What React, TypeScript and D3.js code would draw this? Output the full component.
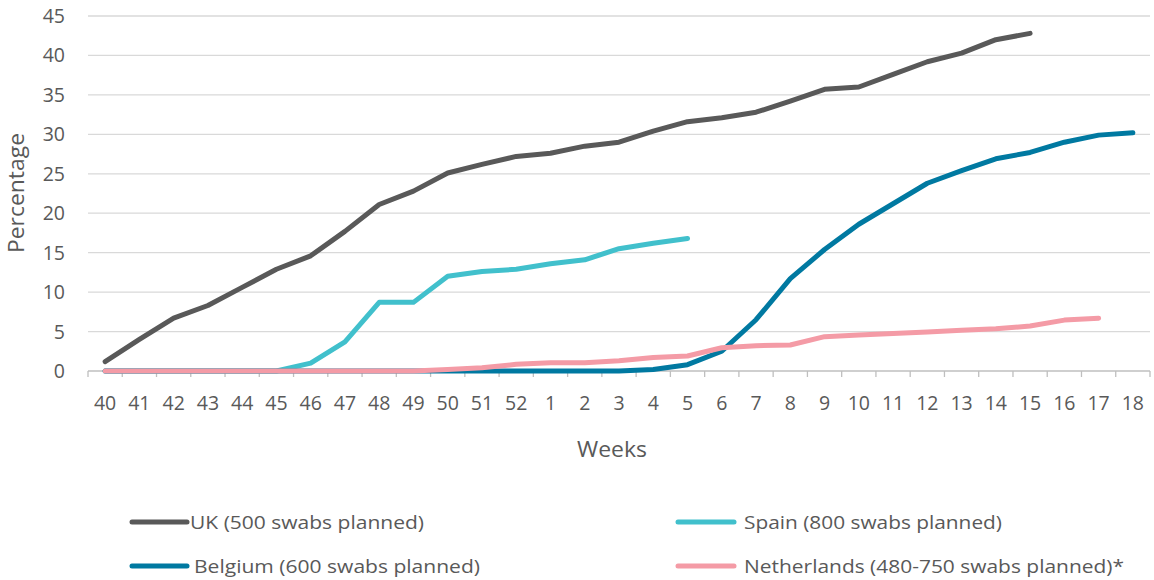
import React from "react";
import * as d3 from "d3";

const weeks: string[] = ["40","41","42","43","44","45","46","47","48","49","50","51","52","1","2","3","4","5","6","7","8","9","10","11","12","13","14","15","16","17","18"];
const yTicks: number[] = [0, 5, 10, 15, 20, 25, 30, 35, 40, 45];

const ukValues: number[] = [1.2, 4.0, 6.7, 8.3, 10.6, 12.9, 14.6, 17.7, 21.1, 22.8, 25.1, 26.2, 27.2, 27.6, 28.5, 29.0, 30.4, 31.6, 32.1, 32.8, 34.2, 35.7, 36.0, 37.6, 39.2, 40.3, 42.0, 42.8];
const spainValues: number[] = [0, 0, 0, 0, 0, 0, 1.0, 3.7, 8.7, 8.7, 12.0, 12.6, 12.9, 13.6, 14.1, 15.5, 16.2, 16.8];
const belgiumValues: number[] = [0, 0, 0, 0, 0, 0, 0, 0, 0, 0, 0, 0, 0, 0, 0, 0, 0.2, 0.8, 2.5, 6.5, 11.7, 15.4, 18.6, 21.2, 23.8, 25.4, 26.9, 27.7, 29.0, 29.9, 30.2];
const netherlandsValues: number[] = [0, 0, 0, 0, 0, 0, 0, 0, 0, 0, 0.2, 0.4, 0.85, 1.05, 1.05, 1.3, 1.7, 1.9, 2.95, 3.2, 3.3, 4.35, 4.55, 4.75, 4.95, 5.15, 5.35, 5.7, 6.45, 6.7];

const seriesNames: string[] = ["UK (500 swabs planned)", "Spain (800 swabs planned)", "Belgium (600 swabs planned)", "Netherlands (480-750 swabs planned)*"];
const seriesColors: string[] = ["#595959", "#41C0CC", "#0079A1", "#F49BA6"];

const FONT = "'Open Sans', 'DejaVu Sans', sans-serif";
const TEXT = "#595959";

export default function App() {
  const W = 1154, H = 580;
  const x = d3.scaleBand<string>().domain(weeks).range([88, 1150]).padding(0);
  const y = d3.scaleLinear().domain([0, 45]).range([371, 16]);
  const cx = (i: number) => (x(weeks[i]) as number) + x.bandwidth() / 2;
  const line = d3.line<number>().x((_, i) => cx(i)).y((v) => y(v));

  const series = [ukValues, spainValues, belgiumValues, netherlandsValues];
  const legendPos = [
    { sx: 132, ex: 187, tx: 190, y: 522, w: 234 },
    { sx: 678, ex: 734, tx: 744, y: 522, w: 258 },
    { sx: 132, ex: 187, tx: 194, y: 566, w: 286 },
    { sx: 678, ex: 734, tx: 744, y: 566, w: 380 },
  ];
  const boundaries = weeks.map((w) => x(w) as number).concat([1150]);

  return (
    <svg width={W} height={H} style={{ position: "absolute", left: 0, top: 0, background: "#fff" }} fontFamily={FONT}>
      {yTicks.filter((t) => t > 0).map((t) => (
        <line key={"g" + t} x1={88} x2={1150} y1={y(t)} y2={y(t)} stroke="#D9D9D9" strokeWidth={1.3} />
      ))}
      <line x1={88} x2={1150} y1={y(0)} y2={y(0)} stroke="#BFBFBF" strokeWidth={1.3} />
      {boundaries.map((b, i) => (
        <line key={"t" + i} x1={b} x2={b} y1={y(0)} y2={y(0) + 6} stroke="#BFBFBF" strokeWidth={1.3} />
      ))}
      {yTicks.map((t) => (
        <text key={"yl" + t} x={65} y={y(t)} dy="0.36em" textAnchor="end" fontSize={19.5} fill={TEXT}>{t}</text>
      ))}
      {weeks.map((w, i) => (
        <text key={"xl" + w} x={cx(i)} y={403} dy="0.36em" textAnchor="middle" fontSize={19.5} fill={TEXT}>{w}</text>
      ))}
      <text transform={`translate(24,${193}) rotate(-90)`} textAnchor="middle" fontSize={21} fill={TEXT} textLength={120} lengthAdjust="spacingAndGlyphs">Percentage</text>
      <text x={612} y={449} dy="0.36em" textAnchor="middle" fontSize={21} fill={TEXT} textLength={70} lengthAdjust="spacingAndGlyphs">Weeks</text>
      {series.map((vals, k) => (
        <path key={"s" + k} d={line(vals) || ""} fill="none" stroke={seriesColors[k]} strokeWidth={5} strokeLinejoin="round" strokeLinecap="round" />
      ))}
      {seriesNames.map((n, k) => (
        <g key={"lg" + k}>
          <line x1={legendPos[k].sx} x2={legendPos[k].ex} y1={legendPos[k].y} y2={legendPos[k].y} stroke={seriesColors[k]} strokeWidth={5} strokeLinecap="round" />
          <text x={legendPos[k].tx} y={legendPos[k].y} dy="0.36em" fontSize={19} fill={TEXT} textLength={legendPos[k].w} lengthAdjust="spacingAndGlyphs">{n}</text>
        </g>
      ))}
    </svg>
  );
}
